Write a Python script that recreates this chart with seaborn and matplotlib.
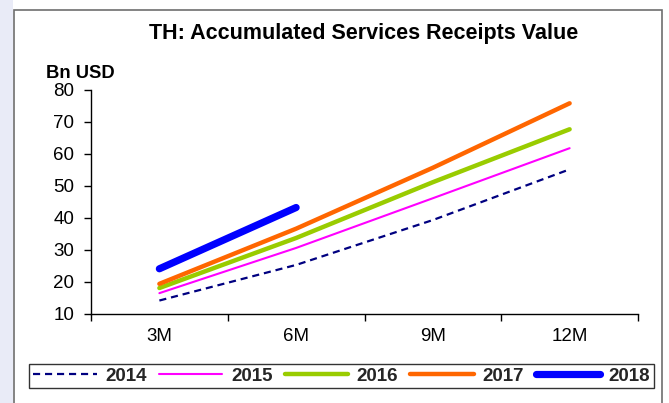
import numpy as np
import pandas as pd
import seaborn as sns
import matplotlib
matplotlib.use("Agg")
import matplotlib.pyplot as plt
from matplotlib.patches import Rectangle
from matplotlib.ticker import FixedLocator, NullFormatter, FixedFormatter

# Accumulated services receipts, Bn USD
periods = ["3M", "6M", "9M", "12M"]
years = ["2014", "2015", "2016", "2017", "2018"]
v2014 = [14.2, 25.3, 39.3, 55.1]
v2015 = [16.5, 30.6, 46.1, 61.7]
v2016 = [18.1, 33.7, 51.1, 67.6]
v2017 = [19.4, 36.6, 55.6, 75.7]
v2018 = [24.1, 43.2]

series = [v2014, v2015, v2016, v2017, v2018]
colors = ["#000080", "#FF00FF", "#99CC00", "#FF6600", "#0000FF"]
widths = [1.6, 1.5, 3.2, 3.2, 5.2]
dashes = [(0, (3.2, 2.2)), "-", "-", "-", "-"]

sns.set_theme(style="white")
plt.rcParams["font.family"] = ["Liberation Sans", "DejaVu Sans"]

fig = plt.figure(figsize=(6.69, 4.03), dpi=100)
fig.patch.set_facecolor("white")

# light lavender margin on the left and the outer panel frame
fig.patches.append(Rectangle((0, 0), 13 / 669, 1, transform=fig.transFigure,
                             facecolor="#e9ebf7", edgecolor="none", zorder=-2))
fig.patches.append(Rectangle((13.5 / 669, -0.02), (662 - 13.5) / 669, 1 - 9.5 / 403 + 0.02,
                             transform=fig.transFigure, facecolor="white",
                             edgecolor="#6e6e6e", linewidth=1.2, zorder=-1))

ax = fig.add_axes([91 / 669, 1 - 314 / 403, (638 - 91) / 669, (314 - 89.5) / 403])
ax.set_facecolor("none")
ax.set_zorder(1)

for yr, vals, c, lw, ls in zip(years, series, colors, widths, dashes):
    df = pd.DataFrame({"pos": np.arange(len(vals)), "value": vals})
    sns.lineplot(data=df, x="pos", y="value", ax=ax, color=c, linewidth=lw,
                 linestyle=ls, label=yr, solid_capstyle="round",
                 dash_capstyle="butt", legend=False)

ax.set_xlim(-0.5, len(periods) - 0.5)
ax.set_ylim(10, 80)
ax.set_yticks(np.arange(10, 81, 10))
ax.set_xlabel("")
ax.set_ylabel("")

# category boundaries carry the tick marks, centres carry the labels
ax.xaxis.set_major_locator(FixedLocator(np.arange(-0.5, len(periods), 1.0)))
ax.xaxis.set_major_formatter(NullFormatter())
ax.xaxis.set_minor_locator(FixedLocator(np.arange(len(periods))))
ax.xaxis.set_minor_formatter(FixedFormatter(periods))
ax.tick_params(axis="x", which="major", direction="out", length=5, width=1,
               color="black", bottom=True)
ax.tick_params(axis="x", which="minor", length=0, pad=10, labelsize=13.5,
               labelcolor="black", bottom=True)
ax.tick_params(axis="y", direction="out", length=5, width=1, color="black",
               pad=7, labelsize=13.5, labelcolor="black", left=True)

for side in ["top", "right"]:
    ax.spines[side].set_visible(False)
for side in ["left", "bottom"]:
    ax.spines[side].set_color("black")
    ax.spines[side].set_linewidth(1)
ax.grid(False)

fig.text(364 / 669, 1 - 33 / 403, "TH: Accumulated Services Receipts Value",
         ha="center", va="center", fontsize=15.5, fontweight="bold", color="black")
fig.text(46 / 669, 1 - 73 / 403, "Bn USD", ha="left", va="center",
         fontsize=13.2, fontweight="bold", color="black")

handles, labels = ax.get_legend_handles_labels()
leg = fig.legend(handles, labels, loc="center", ncol=5,
                 bbox_to_anchor=(341.5 / 669, 1 - 376 / 403),
                 frameon=True, fancybox=False, edgecolor="black",
                 handlelength=3.4, handletextpad=0.45, columnspacing=0.65,
                 borderpad=0.2, prop={"weight": "bold", "size": 13.5})
leg.get_frame().set_linewidth(1.0)

fig.savefig("out.png", dpi=100, facecolor=fig.get_facecolor())
